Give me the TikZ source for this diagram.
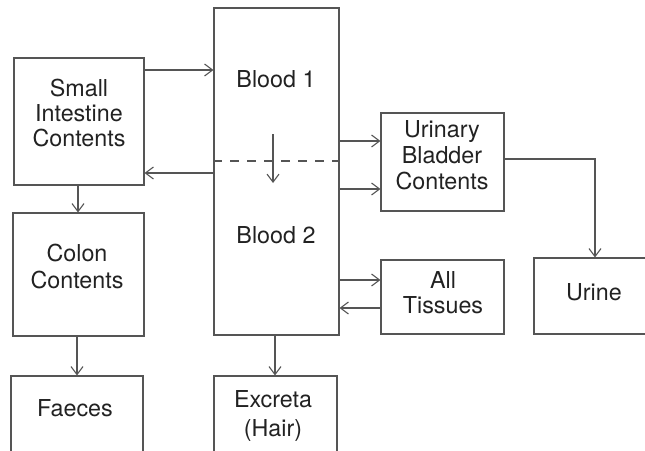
\documentclass[tikz,border=0pt]{standalone}
\usepackage{fontspec}
\setmainfont{TeX Gyre Heros}
\usetikzlibrary{arrows.meta}
\definecolor{ln}{HTML}{555555}
\definecolor{tx}{HTML}{222222}
\begin{document}
\begin{tikzpicture}[x=1pt,y=-1pt,
  box/.style={draw=ln,line width=1.1pt,rectangle,inner sep=0pt},
  lbl/.style={anchor=base,align=center,text=tx,inner sep=0pt,font=\fontsize{23.3}{26}\selectfont},
  arr/.style={draw=ln,line width=1.1pt,-{Straight Barb[length=8pt,width=12pt,line width=1.1pt]}}]
\useasboundingbox (0,0) rectangle (645,450);
\fill[white] (0,0) rectangle (645,450);
\clip (0,0) rectangle (645,450);
% boxes
\node[box,minimum width=130pt,minimum height=127pt] (si) at (79,121.5) {};
\node[box,minimum width=131pt,minimum height=123pt] (colon) at (78.5,274.5) {};
\node[box,minimum width=132pt,minimum height=94pt] (faeces) at (77,423) {};
\node[box,minimum width=125pt,minimum height=327pt] (blood) at (276.5,171.5) {};
\node[box,minimum width=123pt,minimum height=94pt] (excreta) at (275.5,423) {};
\node[box,minimum width=123pt,minimum height=98pt] (urinary) at (442.5,162) {};
\node[box,minimum width=123pt,minimum height=74pt] (tissues) at (442.5,297) {};
\node[box,minimum width=126pt,minimum height=76pt] (urine) at (597,296) {};
% labels (anchor = baseline of last line)
\node[lbl,font=\fontsize{23.3}{25}\selectfont] (tsi) at (79,146) {Small\\Intestine\\Contents};
\node[lbl] (tb1) at (276,87) {Blood 1};
\node[lbl] (tb2) at (276,243) {Blood 2};
\node[lbl,font=\fontsize{23.3}{27}\selectfont] (tco) at (77,288) {Colon\\Contents};
\node[lbl] (tfa) at (75,416) {Faeces};
\node[lbl,font=\fontsize{23.3}{29}\selectfont] (tex) at (273,436) {Excreta\\(Hair)};
\node[lbl] (tur) at (442,189) {Urinary\\Bladder\\Contents};
\node[lbl,font=\fontsize{23.3}{25}\selectfont] (tti) at (443,313) {All\\Tissues};
\node[lbl] (tue) at (594,300) {Urine};
% dashed divider
\coordinate (dl) at (blood.west |- 0,161);
\coordinate (dr) at (blood.east |- 0,161);
\draw[ln,line width=1.1pt,dash pattern=on 9pt off 8pt] (dl) -- (dr);
% internal arrow
\coordinate (ia) at (273,134);
\coordinate (ib) at (273,183);
\draw[arr] (ia) -- (ib);
% connectors
\draw[arr] (si.east |- 0,70) -- (blood.west |- 0,70);
\draw[arr] (blood.west |- 0,173) -- (si.east |- 0,173);
\draw[arr] (si.south -| 78,0) -- (colon.north -| 78,0);
\draw[arr] (colon.south -| 77,0) -- (faeces.north -| 77,0);
\draw[arr] (blood.south -| 275,0) -- (excreta.north -| 275,0);
\draw[arr] (blood.east |- 0,141) -- (urinary.west |- 0,141);
\draw[arr] (blood.east |- 0,189) -- (urinary.west |- 0,189);
\draw[arr] (urinary.east |- 0,159) -| (urine.north -| 595,0);
\draw[arr] (blood.east |- 0,280) -- (tissues.west |- 0,280);
\draw[arr] (tissues.west |- 0,308) -- (blood.east |- 0,308);
\end{tikzpicture}
\end{document}
